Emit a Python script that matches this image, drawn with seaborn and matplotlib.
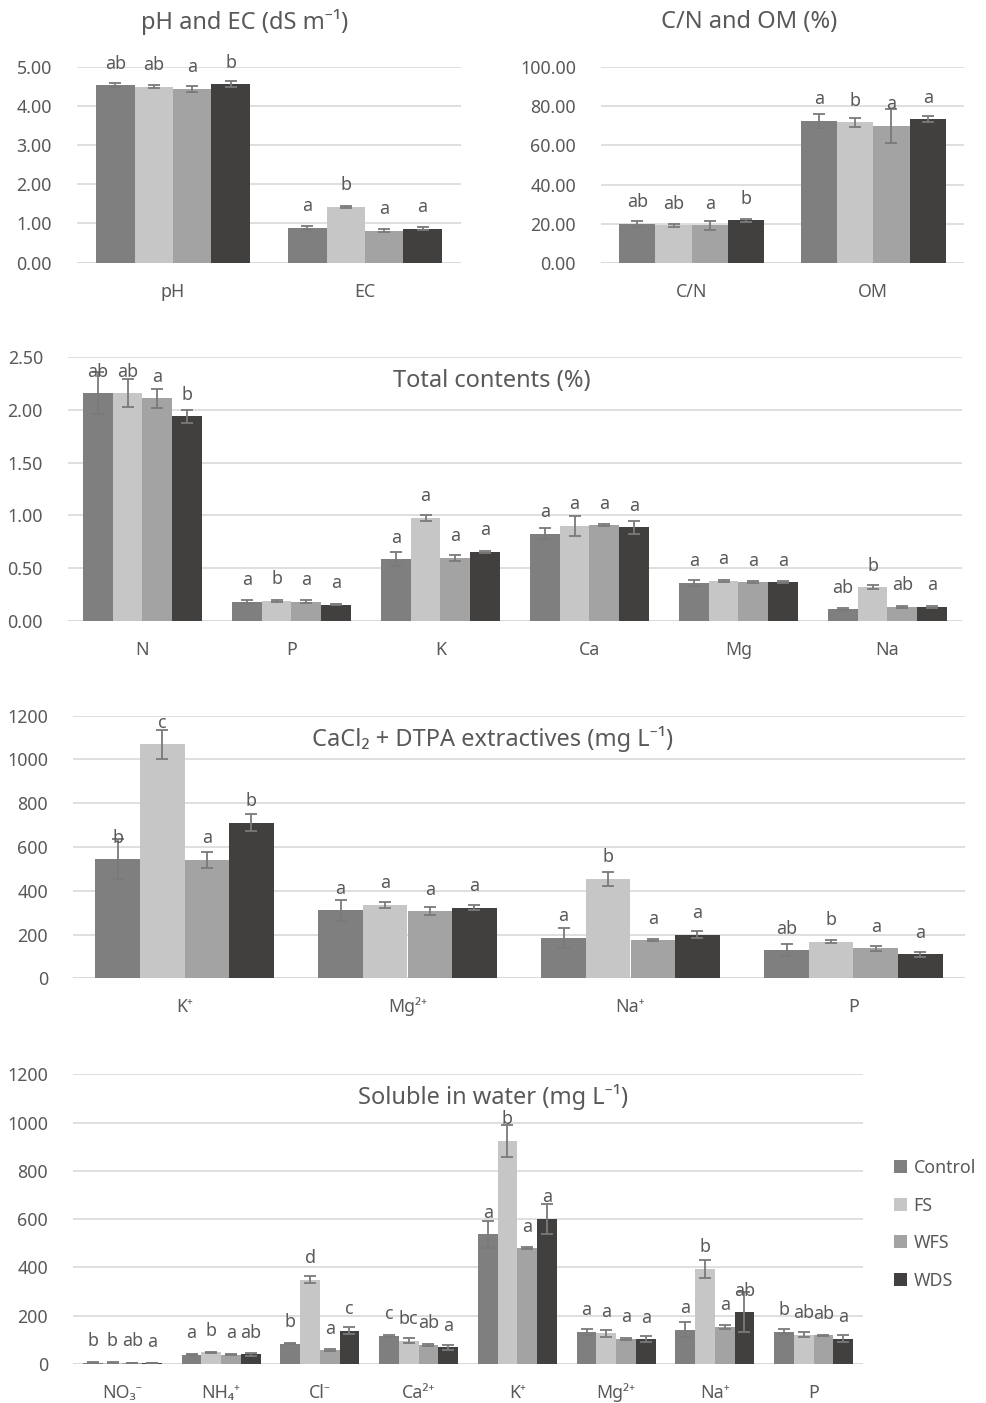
import numpy as np
import pandas as pd
import matplotlib
matplotlib.use("Agg")
import matplotlib.pyplot as plt
from matplotlib.patches import Patch
import seaborn as sns

sns.set_theme(style="white")
plt.rcParams["font.family"] = ["Noto Sans", "DejaVu Sans"]

TEXT = "#595959"
GRID = "#d9d9d9"
ERR = "#7a7a7a"

treatments = ["Control", "FS", "WFS", "WDS"]
colors = ["#7f7f7f", "#c6c6c6", "#a3a3a3", "#41403e"]

# ---- pH and EC ----
ph_ec_cats = ["pH", "EC"]
ph_ec_mean = {"Control": [4.52, 0.89], "FS": [4.49, 1.42], "WFS": [4.43, 0.82], "WDS": [4.55, 0.87]}
ph_ec_err = {"Control": [0.05, 0.05], "FS": [0.03, 0.02], "WFS": [0.085, 0.04], "WDS": [0.08, 0.04]}
ph_ec_letters = {"Control": ["ab", "a"], "FS": ["ab", "b"], "WFS": ["a", "a"], "WDS": ["b", "a"]}

# ---- C/N and OM ----
cn_om_cats = ["C/N", "OM"]
cn_om_mean = {"Control": [19.8, 72.7], "FS": [19.1, 71.8], "WFS": [19.1, 70.1], "WDS": [21.8, 73.5]}
cn_om_err = {"Control": [1.7, 3.6], "FS": [0.8, 2.4], "WFS": [2.4, 8.7], "WDS": [0.8, 1.7]}
cn_om_letters = {"Control": ["ab", "a"], "FS": ["ab", "b"], "WFS": ["a", "a"], "WDS": ["b", "a"]}

# ---- Total contents (%) ----
total_cats = ["N", "P", "K", "Ca", "Mg", "Na"]
total_mean = {"Control": [2.16, 0.18, 0.585, 0.825, 0.358, 0.108],
              "FS": [2.16, 0.19, 0.975, 0.90, 0.377, 0.317],
              "WFS": [2.11, 0.18, 0.595, 0.905, 0.367, 0.13],
              "WDS": [1.94, 0.15, 0.655, 0.885, 0.367, 0.13]}
total_err = {"Control": [0.20, 0.015, 0.065, 0.054, 0.03, 0.01],
             "FS": [0.13, 0.01, 0.03, 0.093, 0.013, 0.02],
             "WFS": [0.09, 0.015, 0.033, 0.01, 0.013, 0.005],
             "WDS": [0.06, 0.005, 0.01, 0.063, 0.013, 0.01]}
total_letters = {"Control": ["ab", "a", "a", "a", "a", "ab"],
                 "FS": ["ab", "b", "a", "a", "a", "b"],
                 "WFS": ["a", "a", "a", "a", "a", "ab"],
                 "WDS": ["b", "a", "a", "a", "a", "a"]}

# ---- CaCl2 + DTPA extractives ----
dtpa_cats = ["K⁺", "Mg²⁺", "Na⁺", "P"]
dtpa_mean = {"Control": [545, 311, 185, 129], "FS": [1069, 335, 454, 167],
             "WFS": [541, 306, 174, 137], "WDS": [711, 323, 200, 110]}
dtpa_err = {"Control": [90, 48, 46, 29], "FS": [67, 14, 32, 6],
            "WFS": [37, 18, 5, 11], "WDS": [38, 11, 15, 11]}
dtpa_letters = {"Control": ["b", "a", "a", "ab"], "FS": ["c", "a", "b", "b"],
                "WFS": ["a", "a", "a", "a"], "WDS": ["b", "a", "a", "a"]}

# ---- Soluble in water ----
water_cats = ["NO₃⁻", "NH₄⁺", "Cl⁻", "Ca²⁺", "K⁺", "Mg²⁺", "Na⁺", "P"]
water_mean = {"Control": [6, 39, 84, 116, 538, 133, 142, 133],
              "FS": [6, 48, 349, 97, 924, 127, 395, 121],
              "WFS": [5, 39, 57, 79, 480, 105, 155, 119],
              "WDS": [4, 40, 138, 69, 601, 102, 215, 105]}
water_err = {"Control": [1, 2, 3, 6, 56, 11, 32, 10],
             "FS": [1, 3, 15, 10, 65, 14, 37, 10],
             "WFS": [1, 3, 5, 4, 5, 4, 8, 3],
             "WDS": [1, 5, 14, 10, 61, 12, 84, 14]}
water_letters = {"Control": ["b", "a", "b", "c", "a", "a", "a", "b"],
                 "FS": ["b", "b", "d", "bc", "b", "a", "b", "ab"],
                 "WFS": ["ab", "a", "a", "ab", "a", "a", "a", "ab"],
                 "WDS": ["a", "ab", "c", "a", "a", "a", "ab", "a"]}

W, H = 987, 1403
fig = plt.figure(figsize=(W / 100, H / 100), dpi=100)

LABEL_FS = 12.8
TITLE_FS = 17


def px_axes(x0, y0, x1, y1):
    return fig.add_axes([x0 / W, 1 - y1 / H, (x1 - x0) / W, (y1 - y0) / H])


def panel(ax, cats, mean, err, letters, ymax, step, fmt):
    rows = []
    for t in treatments:
        for c, v in zip(cats, mean[t]):
            rows.append({"cat": c, "trt": t, "val": v})
    df = pd.DataFrame(rows)
    sns.barplot(data=df, x="cat", y="val", hue="trt", order=cats, hue_order=treatments,
                palette=colors, saturation=1, errorbar=None, width=0.8, gap=0,
                linewidth=0, legend=False, ax=ax, zorder=2)
    for t, cont in zip(treatments, ax.containers):
        for bar, e, lab in zip(cont, err[t], letters[t]):
            xc = bar.get_x() + bar.get_width() / 2
            h = bar.get_height()
            ax.errorbar(xc, h, yerr=e, color=ERR, lw=1.3, capsize=4.5, capthick=1.3, zorder=3)
            ax.annotate(lab, (xc, h), xytext=(0, 15.5), textcoords="offset points",
                        ha="center", va="center", fontsize=LABEL_FS, color=TEXT, zorder=4)
    ax.set_ylim(0, ymax)
    ax.set_xlim(-0.5, len(cats) - 0.5)
    ticks = np.arange(0, ymax + step / 2, step)
    ax.set_yticks(ticks)
    ax.set_yticklabels([fmt.format(v) for v in ticks])
    ax.yaxis.grid(True, color=GRID, lw=1.2, zorder=0)
    ax.xaxis.grid(False)
    ax.set_axisbelow(True)
    for s in ax.spines.values():
        s.set_visible(False)
    ax.axhline(0, color=GRID, lw=1.2, zorder=1)
    ax.tick_params(axis="both", length=0, labelsize=LABEL_FS, labelcolor=TEXT)
    ax.tick_params(axis="y", pad=18)
    ax.tick_params(axis="x", pad=24.5)
    for lbl in ax.get_xticklabels():
        lbl.set_verticalalignment("baseline")
    ax.set_xlabel("")
    ax.set_ylabel("")


ax1 = px_axes(77, 66.5, 461, 262.7)
panel(ax1, ph_ec_cats, ph_ec_mean, ph_ec_err, ph_ec_letters, 5.0, 1.0, "{:.2f}")
fig.text(245 / W, 1 - 22 / H, "pH and EC (dS m⁻¹)", ha="center", va="center",
         fontsize=TITLE_FS, color=TEXT)

ax2 = px_axes(601, 67.3, 964, 262.7)
panel(ax2, cn_om_cats, cn_om_mean, cn_om_err, cn_om_letters, 100, 20, "{:.2f}")
fig.text(749 / W, 1 - 22 / H, "C/N and OM (%)", ha="center", va="center",
         fontsize=TITLE_FS, color=TEXT)

ax3 = px_axes(68, 357.3, 962, 620.7)
panel(ax3, total_cats, total_mean, total_err, total_letters, 2.5, 0.5, "{:.2f}")
fig.text(492 / W, 1 - 381 / H, "Total contents (%)", ha="center", va="center",
         fontsize=TITLE_FS, color=TEXT)

ax4 = px_axes(73, 715.7, 965, 978.3)
panel(ax4, dtpa_cats, dtpa_mean, dtpa_err, dtpa_letters, 1200, 200, "{:.0f}")
fig.text(493 / W, 1 - 739 / H, "CaCl₂ + DTPA extractives (mg L⁻¹)", ha="center",
         va="center", fontsize=TITLE_FS, color=TEXT)

ax5 = px_axes(73, 1074.3, 863, 1364)
panel(ax5, water_cats, water_mean, water_err, water_letters, 1200, 200, "{:.0f}")
fig.text(493 / W, 1 - 1097 / H, "Soluble in water (mg L⁻¹)", ha="center",
         va="center", fontsize=TITLE_FS, color=TEXT)

handles = [Patch(facecolor=c, edgecolor="none", label=t) for t, c in zip(treatments, colors)]
fig.legend(handles=handles, loc="upper left", bbox_to_anchor=(878 / W, 1 - 1143 / H),
           frameon=False, fontsize=LABEL_FS, labelcolor=TEXT, handlelength=0.75,
           handleheight=0.75, handletextpad=0.35, labelspacing=1.1)

fig.savefig("out.png", dpi=100, facecolor="white")
